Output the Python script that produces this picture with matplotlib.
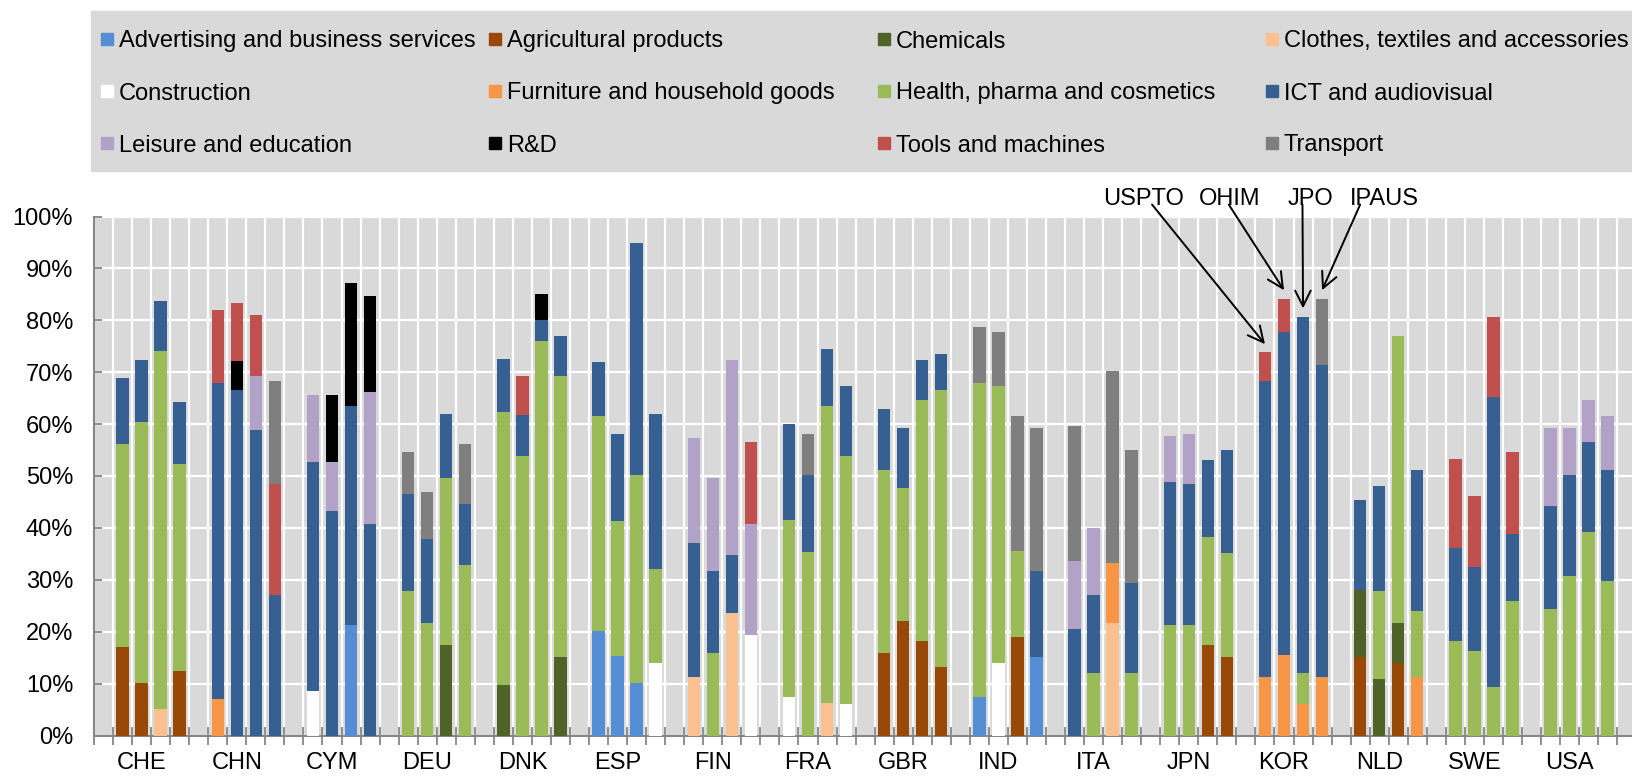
import numpy as np
import matplotlib.pyplot as plt
from matplotlib.patches import Rectangle

plt.rcParams['font.family'] = ['Liberation Sans', 'DejaVu Sans']

W, H = 1632, 776

countries = ['CHE', 'CHN', 'CYM', 'DEU', 'DNK', 'ESP', 'FIN', 'FRA',
             'GBR', 'IND', 'ITA', 'JPN', 'KOR', 'NLD', 'SWE', 'USA']
offices = ['USPTO', 'OHIM', 'JPO', 'IPAUS']

categories = ['Advertising and business services', 'Agricultural products',
              'Chemicals', 'Clothes, textiles and accessories',
              'Construction', 'Furniture and household goods',
              'Health, pharma and cosmetics', 'ICT and audiovisual',
              'Leisure and education', 'R&D', 'Tools and machines', 'Transport']
colors = ['#558ED5', '#984807', '#4F6228', '#FAC090', '#FFFFFF', '#F79646',
          '#9BBB59', '#376092', '#B3A2C7', '#000000', '#C0504D', '#7F7F7F']

# shares in %, 4 offices per country, countries in the order above
advertising = [0, 0, 0, 0,  0, 0, 0, 0,  0, 0, 21.3, 0,  0, 0, 0, 0,
               0, 0, 0, 0,  20.1, 15.4, 10.1, 0,  0, 0, 0, 0,  0, 0, 0, 0,
               0, 0, 0, 0,  7.5, 0, 0, 15.2,  0, 0, 0, 0,  0, 0, 0, 0,
               0, 0, 0, 0,  0, 0, 0, 0,  0, 0, 0, 0,  0, 0, 0, 0]
agricultural = [17.0, 10.1, 0, 12.4,  0, 0, 0, 0,  0, 0, 0, 0,  0, 0, 0, 0,
                0, 0, 0, 0,  0, 0, 0, 0,  0, 0, 0, 0,  0, 0, 0, 0,
                15.9, 22.0, 18.2, 13.2,  0, 0, 18.9, 0,  0, 0, 0, 0,  0, 0, 17.4, 15.1,
                0, 0, 0, 0,  15.1, 0, 14.0, 0,  0, 0, 0, 0,  0, 0, 0, 0]
chemicals = [0, 0, 0, 0,  0, 0, 0, 0,  0, 0, 0, 0,  0, 0, 17.4, 0,
             9.8, 0, 0, 15.1,  0, 0, 0, 0,  0, 0, 0, 0,  0, 0, 0, 0,
             0, 0, 0, 0,  0, 0, 0, 0,  0, 0, 0, 0,  0, 0, 0, 0,
             0, 0, 0, 0,  13.0, 10.9, 7.6, 0,  0, 0, 0, 0,  0, 0, 0, 0]
clothes = [0, 0, 5.2, 0,  0, 0, 0, 0,  0, 0, 0, 0,  0, 0, 0, 0,
           0, 0, 0, 0,  0, 0, 0, 0,  11.3, 0, 23.6, 0,  0, 0, 6.3, 0,
           0, 0, 0, 0,  0, 0, 0, 0,  0, 0, 21.6, 0,  0, 0, 0, 0,
           0, 0, 0, 0,  0, 0, 0, 0,  0, 0, 0, 0,  0, 0, 0, 0]
construction = [0, 0, 0, 0,  0, 0, 0, 0,  8.6, 0, 0, 0,  0, 0, 0, 0,
                0, 0, 0, 0,  0, 0, 0, 14.0,  0, 0, 0, 19.3,  7.5, 0, 0, 6.0,
                0, 0, 0, 0,  0, 14.0, 0, 0,  0, 0, 0, 0,  0, 0, 0, 0,
                0, 0, 0, 0,  0, 0, 0, 0,  0, 0, 0, 0,  0, 0, 0, 0]
furniture = [0, 0, 0, 0,  7.1, 0, 0, 0,  0, 0, 0, 0,  0, 0, 0, 0,
             0, 0, 0, 0,  0, 0, 0, 0,  0, 0, 0, 0,  0, 0, 0, 0,
             0, 0, 0, 0,  0, 0, 0, 0,  0, 0, 11.6, 0,  0, 0, 0, 0,
             11.3, 15.5, 6.0, 11.3,  0, 0, 0, 11.3,  0, 0, 0, 0,  0, 0, 0, 0]
health = [39.2, 50.3, 68.9, 40.0,  0, 0, 0, 0,  0, 0, 0, 0,  27.8, 21.6, 32.3, 32.8,
          52.6, 53.9, 76.1, 54.1,  41.4, 25.9, 40.0, 18.0,  0, 15.9, 0, 0,  34.1, 35.4, 57.2, 47.9,
          35.3, 25.7, 46.4, 53.4,  60.5, 53.3, 16.6, 0,  0, 12.1, 0, 12.1,  21.2, 21.2, 20.8, 20.0,
          0, 0, 6.1, 0,  0, 16.9, 55.3, 12.7,  18.2, 16.3, 9.4, 25.9,  24.3, 30.8, 39.3, 29.7]
ict = [12.7, 11.9, 9.7, 11.8,  60.9, 66.6, 58.9, 27.1,  44.1, 43.2, 42.1, 40.7,  18.8, 16.2, 12.2, 11.9,
       10.2, 7.9, 3.9, 7.7,  10.4, 16.8, 44.8, 29.9,  25.7, 15.7, 11.1, 0,  18.4, 14.7, 11.0, 13.4,
       11.8, 11.6, 7.7, 6.9,  0, 0, 0, 16.4,  20.5, 14.9, 0, 17.2,  27.6, 27.3, 14.9, 19.9,
       57.0, 62.2, 68.6, 60.1,  17.3, 20.3, 0, 27.2,  18.0, 16.1, 55.9, 13.0,  20.0, 19.3, 17.2, 21.5]
leisure = [0, 0, 0, 0,  0, 0, 10.3, 0,  13.0, 9.5, 0, 25.4,  0, 0, 0, 0,
           0, 0, 0, 0,  0, 0, 0, 0,  20.3, 18.1, 37.6, 21.5,  0, 0, 0, 0,
           0, 0, 0, 0,  0, 0, 0, 0,  13.1, 13.0, 0, 0,  8.9, 9.6, 0, 0,
           0, 0, 0, 0,  0, 0, 0, 0,  0, 0, 0, 0,  15.0, 9.2, 8.1, 10.3]
rnd = [0, 0, 0, 0,  0, 5.6, 0, 0,  0, 13.0, 23.8, 18.5,  0, 0, 0, 0,
       0, 0, 5.0, 0,  0, 0, 0, 0,  0, 0, 0, 0,  0, 0, 0, 0,
       0, 0, 0, 0,  0, 0, 0, 0,  0, 0, 0, 0,  0, 0, 0, 0,
       0, 0, 0, 0,  0, 0, 0, 0,  0, 0, 0, 0,  0, 0, 0, 0]
tools = [0, 0, 0, 0,  13.9, 11.2, 11.9, 21.4,  0, 0, 0, 0,  0, 0, 0, 0,
         0, 7.4, 0, 0,  0, 0, 0, 0,  0, 0, 0, 15.8,  0, 0, 0, 0,
         0, 0, 0, 0,  0, 0, 0, 0,  0, 0, 0, 0,  0, 0, 0, 0,
         5.5, 6.5, 0, 0,  0, 0, 0, 0,  17.0, 13.8, 15.4, 15.7,  0, 0, 0, 0]
transport = [0, 0, 0, 0,  0, 0, 0, 19.9,  0, 0, 0, 0,  8.0, 9.1, 0, 11.5,
             0, 0, 0, 0,  0, 0, 0, 0,  0, 0, 0, 0,  0, 8.0, 0, 0,
             0, 0, 0, 0,  10.8, 10.4, 26.0, 27.7,  26.0, 0, 37.1, 25.7,  0, 0, 0, 0,
             0, 0, 0, 12.8,  0, 0, 0, 0,  0, 0, 0, 0,  0, 0, 0, 0]

series = [advertising, agricultural, chemicals, clothes, construction, furniture,
          health, ict, leisure, rnd, tools, transport]

fig = plt.figure(figsize=(W / 100, H / 100), dpi=100)
ax = fig.add_axes([94 / W, 40.5 / H, 1 - 94 / W, 519 / H])
ax.set_facecolor('#D9D9D9')

# 5 slots per country: one empty slot, then one bar per office
nc, no = len(countries), len(offices)
x = np.array([5 * i + 1 + j + 0.5 for i in range(nc) for j in range(no)])
bottom = np.zeros(len(x))
for vals, col in zip(series, colors):
    v = np.array(vals, dtype=float)
    ax.bar(x, v, width=0.65, bottom=bottom, color=col, linewidth=0, zorder=3)
    bottom += v

ax.set_xlim(0, (W - 94) / 19.04)
ax.set_ylim(0, 100)
ax.set_xticks(np.arange(0, 5 * nc + 1))
ax.set_xticks([5 * i + 2.5 for i in range(nc)], minor=True)
ax.set_xticklabels(countries, minor=True, fontsize=17)
ax.tick_params(axis='x', which='major', direction='inout', length=13,
               width=1.3, color='#868686', labelbottom=False)
ax.tick_params(axis='x', which='minor', length=0, pad=12)
ax.set_yticks(np.arange(0, 101, 10))
ax.set_yticklabels(['%d%%' % v for v in range(0, 101, 10)], fontsize=17)
ax.tick_params(axis='y', direction='in', length=6, width=1.3,
               color='#868686', pad=15)
ax.grid(True, which='major', color='white', linewidth=1.6, zorder=0)
ax.set_axisbelow(True)
for s in ['top', 'right']:
    ax.spines[s].set_visible(False)
for s in ['left', 'bottom']:
    ax.spines[s].set_color('#868686')
    ax.spines[s].set_linewidth(1.5)

# office labels with arrows to the KOR bars
kor = countries.index('KOR')
label_x = [55.1, 59.66, 63.9, 67.75]
tail_x = [55.57, 59.6, 63.47, 66.5]
for j, off in enumerate(offices):
    k = kor * no + j
    ax.text(label_x[j], 103.4, off, ha='center', va='center', fontsize=17,
            clip_on=False)
    ax.annotate('', xy=(x[k], bottom[k] + 1.6), xytext=(tail_x[j], 102.3),
                arrowprops=dict(arrowstyle='->', color='black', lw=1.4,
                                mutation_scale=28, shrinkA=0, shrinkB=0),
                annotation_clip=False)

# legend box, 4 columns filled row by row
fig.patches.append(Rectangle((91 / W, 1 - 170.7 / H), 1 - 91 / W, 159.7 / H,
                             transform=fig.transFigure, color='#D9D9D9', zorder=0))
col_x = [119, 507, 896, 1284]
row_y = [39, 91, 143]
msz = 11.5
for n, (name, col) in enumerate(zip(categories, colors)):
    tx, ty = col_x[n % 4], row_y[n // 4]
    fig.patches.append(Rectangle(((tx - 12 - msz / 2) / W, 1 - (ty + msz / 2) / H),
                                 msz / W, msz / H, transform=fig.transFigure,
                                 color=col, zorder=1))
    fig.text(tx / W, 1 - (ty + 8.5) / H, name, ha='left', va='baseline',
             fontsize=17)

fig.savefig('out.png', dpi=100)
